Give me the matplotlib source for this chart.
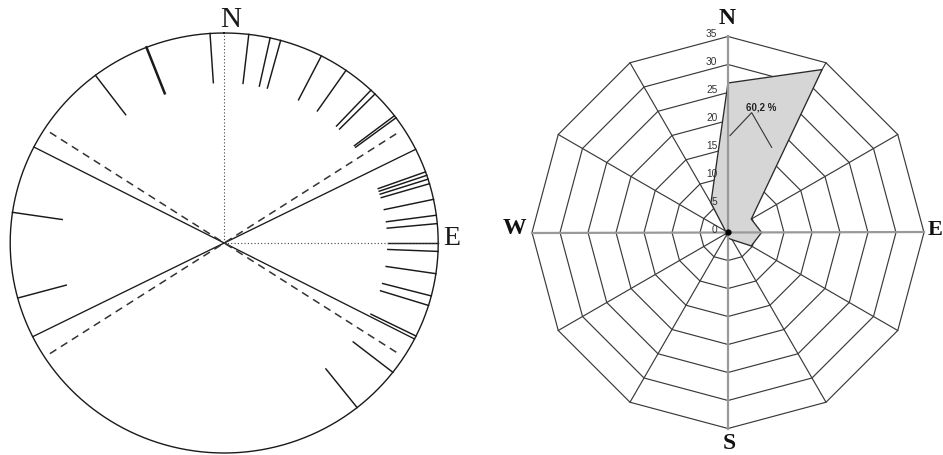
import numpy as np
import matplotlib.pyplot as plt

# left panel: azimuths (degrees clockwise from N) of the measured structures
tick_az = [278.4, 323.0, 338.7, 356.2, 6.6, 12.4, 15.3, 27.0, 34.7, 43.3, 44.8,
           52.7, 53.4, 70.2, 71.2, 72.3, 73.6, 78.0, 82.4, 84.7, 90.0, 92.3,
           98.4, 104.6, 107.3, 116.3, 128.0, 141.6, 254.8]
bold_az = [338.7]
solid_az = [63.5, 117.2]
dashed_az = [57.1, 122.9]

# right panel: rose diagram (percent per 30 degree direction)
rose_dir = [0, 30, 60, 90, 120, 150, 180, 210, 240, 270, 300, 330]
rose_val = [26.7, 33.6, 4.8, 6.0, 4.8, 1.5, 1.0, 0.5, 0.5, 0.5, 0.5, 6.1]
ring_vals = [0, 5, 10, 15, 20, 25, 30, 35]
note_text = "60,2 %"


def xy(az, r):
    a = np.radians(np.asarray(az, dtype=float))
    r = np.asarray(r, dtype=float)
    return r * np.sin(a), r * np.cos(a)


fig = plt.figure(figsize=(9.43, 4.55), dpi=100)

# ---------------- left panel ----------------
ax1 = fig.add_axes([0, 0, 470 / 943, 1])
ax1.set_xlim(-224.2 / 214, (470 - 224.2) / 214)
ax1.set_ylim((243 - 455) / 210, 243 / 210)
ax1.axis("off")

theta = np.linspace(0, 360, 721)
ax1.plot(*xy(theta, np.ones_like(theta)), color="#1a1a1a", lw=1.0)

for az in tick_az:
    lw = 1.8 if az in bold_az else 1.05
    ax1.plot(*xy([az, az], [0.765, 1.0]), color="#1a1a1a", lw=lw)

for az in solid_az:
    ax1.plot(*xy([az, az], [-1.0, 1.0]), color="#1a1a1a", lw=0.95)

for az in dashed_az:
    ax1.plot(*xy([az, az], [-0.97, 0.97]), color="#333333", lw=1.1,
             dashes=(5, 3.5))

ax1.plot(*xy([0, 0], [0, 1]), color="#444444", lw=0.8, ls=(0, (1, 2)))
ax1.plot(*xy([90, 90], [0, 1]), color="#444444", lw=0.8, ls=(0, (1, 2)))

ax1.text(0.03, 1.062, "N", fontsize=21, family="Liberation Serif",
         ha="center", va="center", color="#1a1a1a")
ax1.text(1.064, 0.02, "E", fontsize=20, family="Liberation Serif",
         ha="center", va="center", color="#1a1a1a")

# ---------------- right panel ----------------
ax2 = fig.add_axes([470 / 943, 0, 473 / 943, 1])
ax2.set_xlim((470 - 728) / 5.6, (943 - 728) / 5.6)
ax2.set_ylim((232.5 - 455) / 5.6, 232.5 / 5.6)
ax2.axis("off")

grid_col = "#3a3a3a"
ring_dir = rose_dir + [360]
for r in ring_vals[1:]:
    ax2.plot(*xy(ring_dir, [r] * len(ring_dir)), color=grid_col, lw=0.85)
for d in rose_dir:
    if d % 90 != 0:
        ax2.plot(*xy([d, d], [0, ring_vals[-1]]), color=grid_col, lw=0.85)

ax2.fill(*xy(rose_dir + [0], rose_val + [rose_val[0]]),
         facecolor="#d6d6d6", edgecolor="#2a2a2a", lw=0.95, zorder=3)

for d in [0, 90]:
    ax2.plot(*xy([d, d + 180], [ring_vals[-1]] * 2), color="#999999",
             lw=1.6, zorder=4)
ax2.plot(0, 0, "o", color="black", ms=3.5, zorder=5)

for r in ring_vals:
    ax2.text(-1.9, r + 0.4, str(r), fontsize=7.3, family="Liberation Sans",
             ha="right", va="center", color="#333333", zorder=5)

ax2.text(-0.2, 38.3, "N", fontsize=17, weight="bold", family="Liberation Serif",
         ha="center", va="center", color="#111111")
ax2.text(0.2, -37.6, "S", fontsize=17, weight="bold", family="Liberation Serif",
         ha="center", va="center", color="#111111")
ax2.text(-38.2, 0.8, "W", fontsize=17, weight="bold", family="Liberation Serif",
         ha="center", va="center", color="#111111")
ax2.text(35.6, 0.5, "E", fontsize=16, weight="bold", family="Liberation Serif",
         ha="left", va="center", color="#111111")

ax2.text(6.0, 22.4, note_text, fontsize=7, weight="bold",
         family="Liberation Sans", ha="center", va="center", color="#222222",
         zorder=6)
ax2.plot([0.36, 4.23, 7.8], [17.3, 21.4, 15.2], color="#333333", lw=0.8,
         zorder=6)

fig.savefig("out.png", dpi=100)
